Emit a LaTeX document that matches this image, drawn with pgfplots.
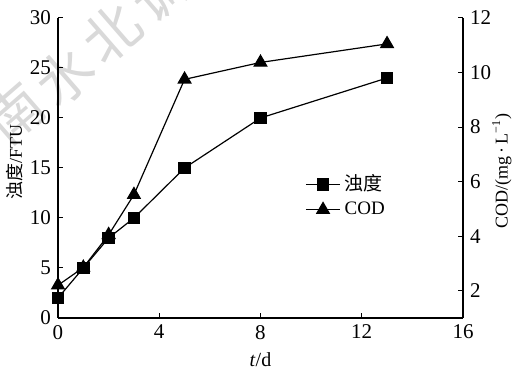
\documentclass[border=0pt]{standalone}
\usepackage{pgfplots}
\pgfplotsset{compat=1.18}
\usepackage{fontspec}
\setmainfont{Liberation Serif}
\newfontfamily\cjk{Noto Sans CJK SC}
\begin{document}
\begin{tikzpicture}
\useasboundingbox (-29pt,-25pt) rectangle (228.5pt,159pt);
% watermark
\begin{scope}[every node/.style={text=black!15, font=\cjk\fontsize{28}{28}\selectfont, rotate=41, inner sep=0pt}]
\node at (-21.5pt,102.5pt) {南};
\node at (3.5pt,121pt) {水};
\node at (27pt,142.5pt) {北};
\node at (51pt,163pt) {调};
\end{scope}
\begin{axis}[
  at={(0,0)}, anchor=south west, scale only axis,
  width=202.5pt, height=150pt,
  xmin=0, xmax=16, ymin=0, ymax=30,
  axis x line*=bottom, axis y line*=left,
  axis line style={-, black, line width=0.6pt},
  xtick={0,4,8,12,16}, ytick={0,5,...,30},
  tick align=inside, major tick length=2.5pt,
  tick style={black, line width=0.5pt},
  /pgf/number format/assume math mode=true,
  tick label style={font=\fontsize{10.5}{12}\selectfont},
  xlabel={\textit{t}/d},
  xlabel style={at={(axis description cs:0.5,-0.14)}, anchor=center, font=\fontsize{10}{12}\selectfont},
  ylabel={{\cjk 浊度}/FTU},
  ylabel style={at={(axis description cs:-0.106,0.52)}, anchor=center, font=\fontsize{9}{11}\selectfont},
  clip=false,
  legend style={draw=none, fill=none, at={(0.595,0.505)}, anchor=north west,
    font=\fontsize{9.5}{11}\selectfont, row sep=0pt},
  legend cell align=left,
]
\addplot[black, line width=0.6pt, mark=square*, mark size=2.9pt] coordinates {
(0,2) (1,5) (2,8) (3,10) (5,15) (8,20) (13,24)};
\addlegendentry{{\cjk 浊度}}
\addlegendimage{black, line width=0.6pt, mark=triangle*, mark size=3.6pt}
\addlegendentry{COD}
\end{axis}
\begin{axis}[
  at={(0,0)}, anchor=south west, scale only axis,
  width=202.5pt, height=150pt,
  xmin=0, xmax=16, ymin=1, ymax=12,
  axis x line=none, axis y line*=right,
  axis line style={-, black, line width=0.6pt},
  ytick={2,4,...,12},
  tick align=inside, major tick length=2.5pt,
  tick style={black, line width=0.5pt},
  /pgf/number format/assume math mode=true,
  tick label style={font=\fontsize{10.5}{12}\selectfont},
  ylabel={COD/(mg\,·\,L\textsuperscript{−1})},
  ylabel style={at={(axis description cs:1.096,0.49)}, anchor=center, rotate=0, font=\fontsize{9}{11}\selectfont},
  clip=false,
]
\addplot[black, line width=0.6pt, mark=triangle*, mark size=3.6pt] coordinates {
(0,2.2) (1,2.85) (2,4.05) (3,5.52) (5,9.75) (8,10.37) (13,11.05)};
\end{axis}
\end{tikzpicture}
\end{document}
